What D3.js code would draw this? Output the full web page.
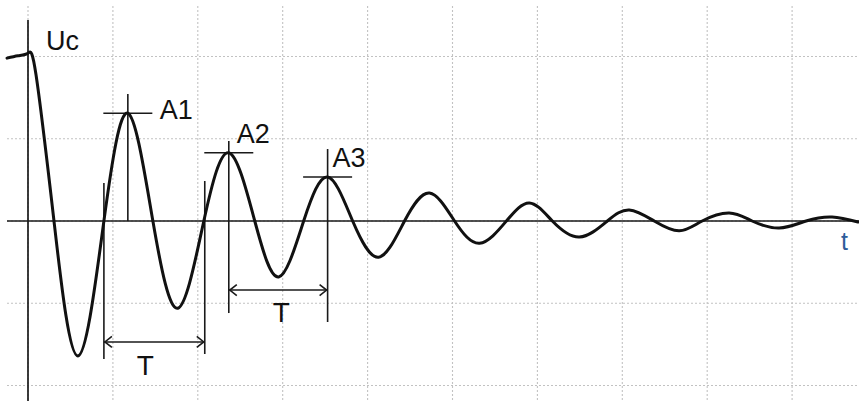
<!DOCTYPE html>
<html>
<head>
<meta charset="utf-8">
<script src="https://cdn.jsdelivr.net/npm/d3@7"></script>
<style>
  html, body { margin: 0; padding: 0; background: #fff; }
  svg { display: block; }
  text { font-family: "Liberation Sans", Arial, sans-serif; }
</style>
</head>
<body>
<svg id="chart" width="859" height="401"></svg>
<script>
// Capacitor voltage Uc during a damped oscillation (time and voltage in grid divisions)
const timePoints = [-0.247, -0.118, 0, 0.094, 0.306, 0.588, 0.894, 1.176, 1.471, 1.765, 2.071, 2.365,
  2.671, 2.953, 3.247, 3.529, 3.824, 4.129, 4.435, 4.729, 5.024, 5.318,
  5.635, 5.906, 6.176, 6.494, 6.824, 7.082, 7.376, 7.671, 7.941, 8.259,
  8.529, 8.847, 9.165, 9.471, 9.776];
const voltagePoints = [1.98, 2.01, 2.04, 1.78, 0, -1.64, 0, 1.31, 0, -1.06, 0, 0.83,
  0, -0.68, 0, 0.535, 0, -0.44, 0, 0.34, 0, -0.27,
  0, 0.22, 0, -0.195, 0, 0.134, 0, -0.12, 0, 0.097,
  0, -0.085, 0, 0.049, -0.012];

// Marked amplitudes
const peakLabels = ["A1", "A2", "A3"];
const peakTimes = [1.176, 2.365, 3.529];
const peakValues = [1.31, 0.83, 0.535];

// Period spans
const periodLabels = ["T", "T"];
const periodStarts = [0.894, 2.365];
const periodEnds = [2.082, 3.529];

// Grid divisions
const gridTimes = [0, 1, 2, 3, 4, 5, 6, 7, 8, 9];
const gridValues = [-2, -1, 0, 1, 2];

const axisLabels = ["Uc", "t"];

const W = 859, H = 401;
const svg = d3.select("#chart");

const x = d3.scaleLinear().domain([0, 10]).range([28, 877]);
const y = d3.scaleLinear().domain([2, -2]).range([56.5, 385.5]);

// dotted grid
const grid = svg.append("g").attr("stroke", "#c2c2c2").attr("stroke-width", 1.1)
  .attr("stroke-dasharray", "2,2").attr("fill", "none");
grid.selectAll("line.v").data(gridTimes).join("line").attr("class", "v")
  .attr("x1", d => x(d)).attr("x2", d => x(d)).attr("y1", 6).attr("y2", H);
grid.selectAll("line.h").data(gridValues).join("line").attr("class", "h")
  .attr("x1", 7).attr("x2", W).attr("y1", d => y(d)).attr("y2", d => y(d));

// axes
const axes = svg.append("g").attr("stroke", "#1a1a1a").attr("stroke-width", 1.7);
axes.append("line").attr("x1", 7).attr("x2", W).attr("y1", y(0)).attr("y2", y(0));
axes.append("line").attr("x1", x(0)).attr("x2", x(0)).attr("y1", 20).attr("y2", H);

// annotation lines
const ann = svg.append("g").attr("stroke", "#1a1a1a").attr("stroke-width", 1.6).attr("fill", "none");
const tickHalf = 24.5;
const peakLineTop = [1.544, 0.973, 0.875];
const peakLineBottom = [0, -1.119, -1.228];
peakTimes.forEach((t, i) => {
  ann.append("line").attr("x1", x(t) - tickHalf).attr("x2", x(t) + tickHalf)
    .attr("y1", y(peakValues[i])).attr("y2", y(peakValues[i]));
  ann.append("line").attr("x1", x(t)).attr("x2", x(t))
    .attr("y1", y(peakLineTop[i])).attr("y2", y(peakLineBottom[i]));
});

// first period: two marker lines at the zero crossings
ann.append("line").attr("x1", x(periodStarts[0])).attr("x2", x(periodStarts[0]))
  .attr("y1", y(0.462)).attr("y2", y(-1.678));
ann.append("line").attr("x1", x(periodEnds[0])).attr("x2", x(periodEnds[0]))
  .attr("y1", y(0.486)).attr("y2", y(-1.617));

// double-headed period arrows
const arrowLevels = [-1.471, -0.839];
periodStarts.forEach((s, i) => {
  const x0 = x(s), x1 = x(periodEnds[i]), yy = y(arrowLevels[i]);
  ann.append("line").attr("x1", x0).attr("x2", x1).attr("y1", yy).attr("y2", yy);
  ann.append("path").attr("d", `M${x0 + 8},${yy - 5.5}L${x0 + 1},${yy}L${x0 + 8},${yy + 5.5}`);
  ann.append("path").attr("d", `M${x1 - 8},${yy - 5.5}L${x1 - 1},${yy}L${x1 - 8},${yy + 5.5}`);
});

// the waveform
const pts = timePoints.map((t, i) => [t, voltagePoints[i]]);
svg.append("path").datum(pts)
  .attr("fill", "none").attr("stroke", "#111").attr("stroke-width", 3)
  .attr("stroke-linejoin", "round").attr("stroke-linecap", "round")
  .attr("d", d3.line().x(d => x(d[0])).y(d => y(d[1])).curve(d3.curveNatural));

// labels
const txt = svg.append("g").attr("fill", "#111").attr("font-size", 27);
const peakDx = [32, 8, 5], peakDy = [6, -10, -10];
peakLabels.forEach((l, i) => {
  txt.append("text").attr("x", x(peakTimes[i]) + peakDx[i]).attr("y", y(peakValues[i]) + peakDy[i]).text(l);
});
const periodDx = [-9, 3], periodDy = [33, 32];
periodLabels.forEach((l, i) => {
  txt.append("text").attr("x", (x(periodStarts[i]) + x(periodEnds[i])) / 2 + periodDx[i])
    .attr("y", y(arrowLevels[i]) + periodDy[i]).attr("text-anchor", "middle").attr("font-size", 28).text(l);
});
txt.append("text").attr("x", 46).attr("y", 50).text(axisLabels[0]);
txt.append("text").attr("x", 841).attr("y", 250).attr("fill", "#2e5c9a").attr("font-size", 25).text(axisLabels[1]);
</script>
</body>
</html>
